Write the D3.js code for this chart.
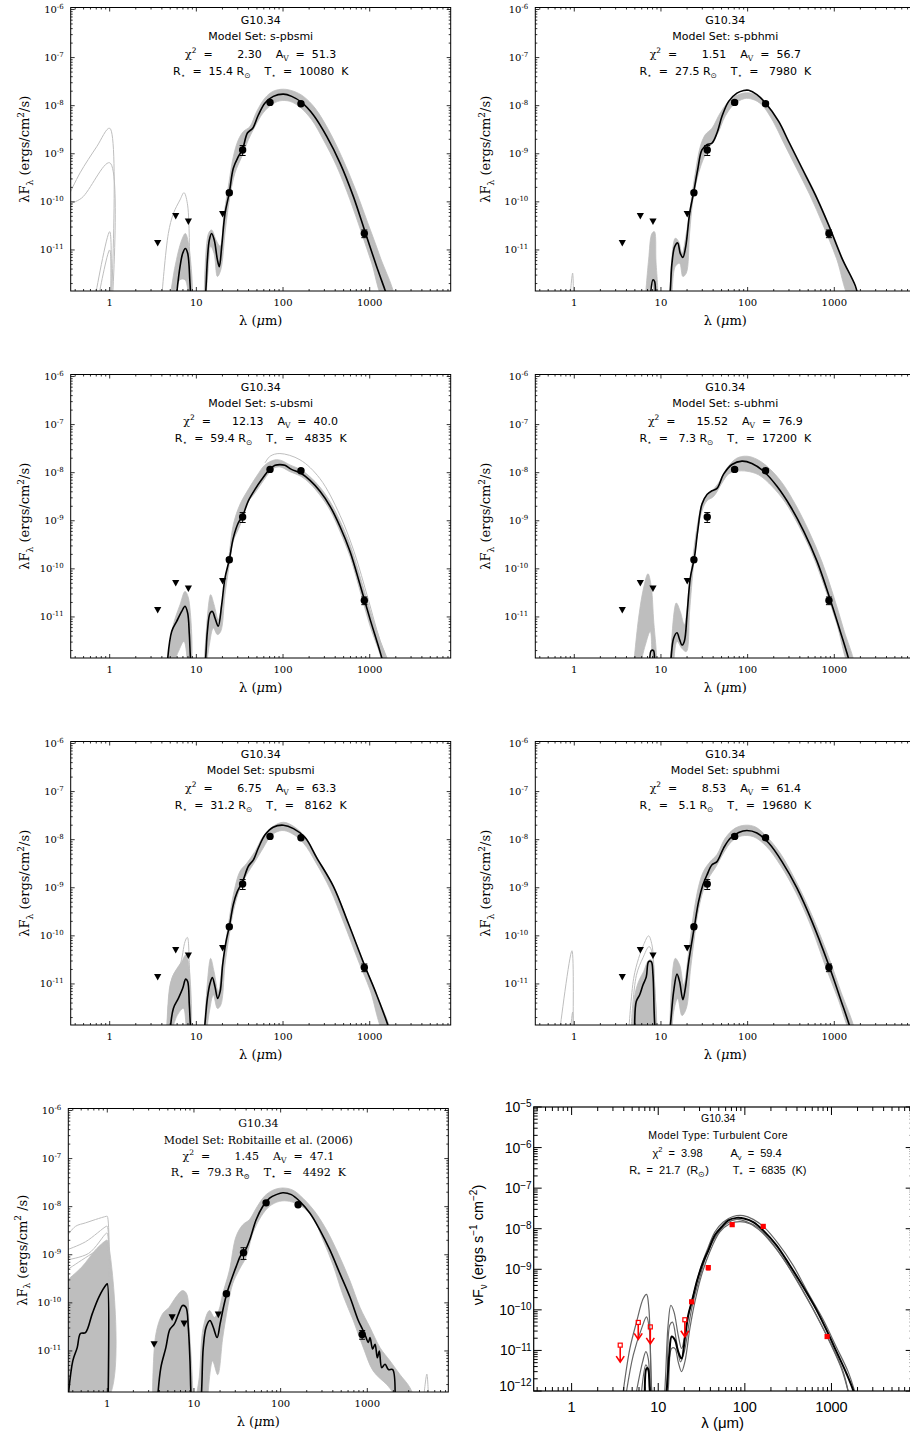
<!DOCTYPE html>
<html><head><meta charset="utf-8">
<script src="https://cdn.jsdelivr.net/npm/d3@7"></script>
<style>body{margin:0;background:#fff}svg{display:block}text{white-space:pre}</style>
</head><body>
<script>
// ---------------- DATA ----------------
const sourceName = "G10.34";
const modelNames = ["s-pbsmi","s-pbhmi","s-ubsmi","s-ubhmi","spubsmi","spubhmi","Robitaille et al. (2006)"];
const chi2Vals = [2.30,1.51,12.13,15.52,6.75,8.53,1.45];
const avVals = [51.3,56.7,40.0,76.9,63.3,61.4,47.1];
const rStarVals = [15.4,27.5,59.4,7.3,31.2,5.1,79.3];
const tStarVals = [10080,7980,4835,17200,8162,19680,4492];
const tcModelType = "Turbulent Core", tcChi2 = 3.98, tcAv = 59.4, tcRstar = 21.7, tcTstar = 6835;

const xTickVals = [1,10,100,1000];
const yTickExpMpl = [-11,-10,-9,-8,-7,-6];
const yTickExpTc = [-12,-11,-10,-9,-8,-7,-6,-5];

// observations (microns, erg/cm2/s)
const detWave = [24, 34.2, 70.8, 161, 867];
const detFlux = [1.55e-10, 1.2e-9, 1.17e-8, 1.1e-8, 2.2e-11];
const detErr  = [1.5e-11, 2.8e-10, 1.1e-9, 1.0e-9, 4e-12];
const limWave = [3.58, 5.78, 8.09, 20.1];
const limFlux = [1.4e-11, 5.1e-11, 3.9e-11, 5.6e-11];
const p7DetWave = [23.7, 37.3, 68, 159, 872];
const p7DetFlux = [1.55e-10, 1.1e-9, 1.2e-8, 1.1e-8, 2.2e-11];
const p7DetErr  = [1.5e-11, 3e-10, 1.1e-9, 1.0e-9, 4.5e-12];
const p7LimWave = [3.47, 5.6, 7.7, 19.1];
const p7LimFlux = [1.38e-11, 5.0e-11, 3.7e-11, 5.7e-11];
const tcDetWave = [24.3, 37.8, 71.4, 163, 891];
const tcDetFlux = [1.58e-10, 1.1e-9, 1.26e-8, 1.14e-8, 2.2e-11];
const tcDetErr  = [0, 1.7e-10, 0, 0, 1.5e-12];
const tcLimWave = [3.64, 5.88, 8.1, 20.3];
const tcLimFlux = [1.35e-11, 4.9e-11, 3.8e-11, 5.7e-11];

// ---- Panel 1 : s-pbsmi
const p1Best = [[5.82,9e-13],[6.48,4.5e-12],[6.96,8.5e-12],[7.46,1.07e-11],[7.94,8.5e-12],[8.45,2.0e-12],[8.91,4e-13],[10.5,1e-13],[12.6,9e-13],[13.4,6.2e-12],[14.1,1.6e-11],[15.0,2.2e-11],[16.1,1.6e-11],[17.5,6.2e-12],[18.4,4.5e-12],[19.6,1.17e-11],[21.4,5.7e-11],[24.0,1.55e-10],[26.7,5.0e-10],[30.5,8.7e-10],[34.2,1.25e-9],[38.8,2.7e-9],[44.7,3.4e-9],[51.9,6.4e-9],[62,1.14e-8],[77.3,1.56e-8],[101,1.74e-8],[126,1.56e-8],[164,1.17e-8],[224,6.4e-9],[319,2.3e-9],[455,6.4e-10],[647,1.3e-10],[883,2.4e-11],[1202,4.5e-12],[1642,9e-13],[1900,3e-13]];
const p1BandHi = [[12.3,1e-12],[13.8,2.2e-11],[15.0,2.6e-11],[16.9,1.6e-11],[18.8,1.2e-11],[20.9,5.7e-11],[23.4,2.1e-10],[26.7,8.7e-10],[30.5,1.95e-9],[34.9,2.9e-9],[41.6,3.7e-9],[49.7,7.6e-9],[62,1.45e-8],[77.3,2.0e-8],[101,2.2e-8],[132,2.0e-8],[172,1.56e-8],[234,8.9e-9],[333,3.2e-9],[475,8.7e-10],[678,1.9e-10],[923,4.2e-11],[1316,7.3e-12],[1876,1e-12]];
const p1BandLo = [[1438,1e-12],[1055,5.3e-12],[809,2.2e-11],[593,1.1e-10],[416,5.5e-10],[292,1.95e-9],[214,5.1e-9],[157,9.3e-9],[120,1.23e-8],[92,1.26e-8],[74,1.05e-8],[59,7.1e-9],[47.5,3.7e-9],[39.8,1.95e-9],[33.4,8.7e-10],[27.9,4.0e-10],[24.4,1.3e-10],[21.6,2.6e-11],[19.1,3.8e-12],[17.5,2.8e-12],[16.0,8.5e-12],[14.6,1.2e-11],[13.8,4.5e-12],[12.9,1e-12]];
const p1MirHi = [[4.97,1e-12],[5.67,4.5e-12],[6.77,1.6e-11],[7.46,2.2e-11],[8.09,1.4e-11],[8.8,1e-12]];
const p1MirLo = [[8.4,1e-12],[7.4,2.4e-12],[6.48,2.4e-12],[5.43,1e-12]];
const p1Nir1 = [[0.34,1.4e-10],[0.455,4.0e-10],[0.708,1.4e-9],[1.0,3.4e-9],[1.0,1e-13]];
const p1Nir2 = [[0.34,9.0e-11],[0.475,1.2e-10],[1.0,6.5e-10],[1.0,1e-13]];
const p1Nir3 = [[0.677,1e-12],[1.0,2.4e-11],[1.0,1e-13]];
const p1Nir4 = [[0.74,1e-12],[1.0,1e-11],[1.0,1e-13]];
const p1Mir1 = [[3.98,1e-12],[4.75,2.2e-11],[5.43,5.7e-11],[6.48,1.1e-10],[7.2,1.55e-10],[7.87,9.3e-11],[8.45,4.5e-12],[8.8,1e-12]];

// ---- Panel 2 : s-pbhmi
const p2Best = [[7.53,1e-12],[8.09,2.4e-12],[8.45,2.2e-12],[8.75,9e-13],[10.5,1e-13],[12.6,1e-12],[13.4,5.3e-12],[14.4,1.17e-11],[15.6,1.4e-11],[16.7,8.5e-12],[17.9,7.0e-12],[19.3,1.17e-11],[21.4,5.7e-11],[23.8,1.55e-10],[26.5,4.6e-10],[29.7,1.2e-9],[33.9,1.55e-9],[38.8,1.67e-9],[44.3,2.7e-9],[50.6,6.0e-9],[60.4,1.23e-8],[75.3,1.82e-8],[90,2.07e-8],[103,2.09e-8],[128,1.7e-8],[160,1.15e-8],[228,4.7e-9],[297,1.8e-9],[424,5.0e-10],[604,1.4e-10],[860,3.3e-11],[1227,6.7e-12],[1746,1.8e-12],[1900,1e-12],[2100,4e-13]];
const p2BandHi = [[12.6,1e-12],[14.6,1.75e-11],[16,1.5e-11],[17.5,8.5e-12],[19.6,2.2e-11],[21.8,7.9e-11],[24.9,4e-10],[28.4,1.4e-9],[32.5,2.5e-9],[38.8,3.4e-9],[48.4,7.1e-9],[63,1.33e-8],[82,1.75e-8],[103,1.85e-8],[128,1.6e-8],[160,1.17e-8],[228,4.9e-9],[297,1.9e-9],[424,5.3e-10],[604,1.5e-10],[860,3.5e-11],[1227,7e-12],[1800,1e-12]];
const p2BandLo = [[1505,1e-12],[1058,6.7e-12],[741,3.3e-11],[521,1.4e-10],[366,5e-10],[256,1.8e-9],[197,4.7e-9],[145,1.05e-8],[115,1.35e-8],[92,1.4e-8],[69,1.05e-8],[55,6e-9],[45,2.6e-9],[37,1.5e-9],[30.5,7.4e-10],[26,2.9e-10],[23.4,1.1e-10],[21.4,2.2e-11],[19.6,3.3e-12],[17.9,2.8e-12],[16.4,5.3e-12],[14.6,4.5e-12],[13.4,1e-12]];
const p2MirHi = [[6.6,1e-12],[7.2,6.2e-12],[7.87,2.2e-11],[8.4,2.4e-11],[8.75,6.2e-12],[9.0,1e-12]];
const p2MirLo = [[8.6,1e-12],[7.87,2.0e-12],[7.0,1e-12]];
const p2Nir1 = [[0.89,1e-12],[0.957,3.3e-12],[0.98,1e-12]];

// ---- Panel 3 : s-ubsmi
const p3Best = [[4.6,1e-12],[5.19,5e-12],[5.93,8.1e-12],[6.77,1.3e-11],[7.4,1.67e-11],[7.94,1.2e-11],[8.3,4.3e-12],[8.68,1e-12],[10.5,1e-13],[12.6,1e-12],[13.4,5e-12],[14.4,1.2e-11],[15.3,1.3e-11],[16.4,9.5e-12],[17.9,6.4e-12],[19.6,1.8e-11],[21.4,6.5e-11],[24,1.55e-10],[26.7,4.4e-10],[30.5,9.1e-10],[34.2,1.26e-9],[39.8,2.6e-9],[47.5,4.5e-9],[56.7,7.2e-9],[70.8,1.2e-8],[81,1.42e-8],[92,1.47e-8],[105,1.42e-8],[125,1.17e-8],[161,9.7e-9],[205,6.9e-9],[267,4.1e-9],[349,2.0e-9],[454,7.6e-10],[593,2.3e-10],[773,4.7e-11],[867,2.3e-11],[1009,9e-12],[1315,1.9e-12],[1570,6e-13]];
const p3BandHi = [[12.3,1e-12],[14.6,2.9e-11],[16,1.8e-11],[17.9,8.8e-12],[20.1,2.5e-11],[23.4,1.45e-10],[26.7,8.3e-10],[31.9,2.2e-9],[39.8,4.5e-9],[49.7,8.5e-9],[62,1.45e-8],[81,1.85e-8],[95,1.8e-8],[120,1.45e-8],[161,1.15e-8],[205,8.2e-9],[267,5e-9],[349,2.5e-9],[454,1.0e-9],[593,3.2e-10],[773,7e-11],[1009,1.4e-11],[1315,3.2e-12],[1620,1e-12]];
const p3BandLo = [[1480,1e-12],[1250,2.2e-12],[1009,6.5e-12],[773,3.5e-11],[593,1.8e-10],[454,6e-10],[349,1.65e-9],[267,3.4e-9],[205,5.9e-9],[161,8.4e-9],[120,1.05e-8],[95,1.3e-8],[81,1.28e-8],[70,1.02e-8],[59,6.7e-9],[47.5,3.8e-9],[38,2.2e-9],[31.9,8e-10],[26.7,3.8e-10],[24,1.23e-10],[21.4,2.9e-11],[19.1,5e-12],[17.5,4.3e-12],[15.7,5.9e-12],[14.1,2.6e-12],[13.1,1e-12]];
const p3MirHi = [[4.6,1e-12],[5.43,6.9e-12],[6.48,1.8e-11],[7.4,3.4e-11],[8.09,2.5e-11],[8.6,1e-12]];
const p3MirLo = [[8.2,1e-12],[7.2,3.1e-12],[6.2,1.9e-12],[5.4,1e-12]];
const p3Top = [[62,1.6e-8],[71,2.2e-8],[92,2.5e-8],[157,1.85e-8],[267,7.5e-9],[454,1.3e-9],[659,2.3e-10],[964,2.3e-11],[1300,3.5e-12],[1714,1e-12]];

// ---- Panel 4 : s-ubhmi
const p4Best = [[7.4,1e-12],[7.73,2e-12],[8.2,2e-12],[8.5,1e-12],[10.5,1e-13],[12.8,1e-12],[14.0,3.6e-12],[15.3,4.7e-12],[16.4,3.4e-12],[17.5,2.6e-12],[18.6,3.1e-12],[20,1.12e-11],[21.8,6.5e-11],[24.3,1.7e-10],[26.5,6e-10],[29.7,2.2e-9],[34,3.5e-9],[38.8,4.2e-9],[44.3,4.7e-9],[52.8,9.3e-9],[66,1.48e-8],[86,1.74e-8],[112,1.55e-8],[153,1.07e-8],[218,5.2e-9],[311,2.0e-9],[443,6.1e-10],[631,1.45e-10],[860,2.9e-11],[1172,5e-12],[1530,1e-12],[1700,4e-13]];
const p4BandHi = [[12.8,1e-12],[15.0,1.95e-11],[16.7,1.3e-11],[18.6,6.9e-12],[20.9,3.4e-11],[23.8,2.3e-10],[27.2,1.15e-9],[31,2.8e-9],[37,3.8e-9],[46.2,6.1e-9],[57.8,1.25e-8],[75,2.0e-8],[98,2.2e-8],[128,1.9e-8],[175,1.26e-8],[249,6.2e-9],[355,2.2e-9],[506,6.2e-10],[721,1.4e-10],[982,2.7e-11],[1282,5.5e-12],[1671,1e-12]];
const p4BandLo = [[1480,1e-12],[1073,7e-12],[787,3.8e-11],[552,2.1e-10],[387,8e-10],[272,2.4e-9],[191,5.2e-9],[134,9e-9],[98,1.07e-8],[75,1.07e-8],[60,9.3e-9],[50.6,6.1e-9],[40.5,3.2e-9],[34,2.6e-9],[29.7,1.6e-9],[26,4.5e-10],[23.8,1.23e-10],[21.4,1.3e-11],[19.6,1.9e-12],[17.5,2.2e-12],[15.3,3.1e-12],[14.0,1e-12]];
const p4MirHi = [[4.84,1e-12],[5.52,9.5e-12],[6.3,4e-11],[7.08,7.9e-11],[7.67,4.7e-11],[8.2,9.5e-12],[8.68,1e-12]];
const p4MirLo = [[8.2,1e-12],[7.53,5e-12],[6.6,2.6e-12],[5.78,1e-12]];

// ---- Panel 5 : spubsmi
const p5Best = [[4.97,1e-12],[5.43,3.1e-12],[6.2,5e-12],[6.96,8.1e-12],[7.53,1.26e-11],[7.94,1.12e-11],[8.3,3.6e-12],[8.68,1e-12],[10.5,1e-13],[12.3,1e-12],[13.4,5e-12],[14.4,1.03e-11],[15.3,1.35e-11],[16.4,8.8e-12],[17.6,5e-12],[18.8,6.9e-12],[20.1,2.5e-11],[22,7.6e-11],[24,1.55e-10],[26.7,4.5e-10],[29.7,8.3e-10],[34.2,1.35e-9],[39.8,2.8e-9],[45.5,3.8e-9],[51.9,6.7e-9],[62,1.26e-8],[77,1.82e-8],[101,2.0e-8],[132,1.7e-8],[179,1.12e-8],[245,4.2e-9],[381,1.07e-9],[568,1.8e-10],[867,2.5e-11],[1205,5.9e-12],[1717,1e-12],[1900,4e-13]];
const p5BandHi = [[12.3,1e-12],[14.6,3.4e-11],[16,1.8e-11],[17.9,6.9e-12],[20.1,2.9e-11],[23.4,1.7e-10],[26.7,7.1e-10],[31.9,2.2e-9],[38,3.2e-9],[47.5,5.7e-9],[59,1.17e-8],[77,1.9e-8],[101,2.3e-8],[132,1.9e-8],[179,1.15e-8],[245,4.4e-9],[381,1.1e-9],[568,1.85e-10],[867,2.6e-11],[1205,6e-12],[1700,1e-12]];
const p5BandLo = [[1450,1e-12],[1009,7.5e-12],[740,3e-11],[519,1.6e-10],[348,9.5e-10],[245,3.1e-9],[172,8.5e-9],[126,1.35e-8],[97,1.55e-8],[74,1.25e-8],[59,6.7e-9],[47.5,3.5e-9],[38,1.86e-9],[31.9,9.8e-10],[26.7,3.2e-10],[24,1.05e-10],[21.4,2.5e-11],[19.1,3.6e-12],[17.5,3.1e-12],[15.7,5.9e-12],[14.1,2.6e-12],[13.1,1e-12]];
const p5MirHi = [[4.55,1e-12],[4.97,9.5e-12],[5.67,1.8e-11],[6.77,2.9e-11],[7.53,4e-11],[7.94,3.4e-11],[8.45,1e-12]];
const p5MirLo = [[7.9,1e-12],[7.1,3.1e-12],[6.0,2.2e-12],[5.2,1e-12]];
const p5Mir1 = [[4.55,1e-12],[4.97,8.1e-12],[5.43,1.55e-11],[6.48,2.5e-11],[7.4,7.6e-11],[7.87,9.3e-11],[8.3,2.5e-11],[8.6,1e-12]];

// ---- Panel 6 : spubhmi
const p6Best = [[4.97,1e-12],[5.19,4.3e-12],[5.67,5.9e-12],[6.2,9.5e-12],[6.77,1.4e-11],[7.2,2.9e-11],[7.73,2.9e-11],[8.09,1.55e-11],[8.6,1e-12],[10.5,1e-13],[12.6,1e-12],[14,6.9e-12],[15.3,1.6e-11],[16.4,1.12e-11],[17.9,4.7e-12],[19.1,8.1e-12],[20.9,2.9e-11],[24.3,1.55e-10],[27.2,5.2e-10],[30.5,1.15e-9],[34,1.86e-9],[38.8,3.0e-9],[44.3,3.5e-9],[52.8,6.7e-9],[63,1.07e-8],[79,1.41e-8],[98,1.55e-8],[128,1.38e-8],[175,8.5e-9],[249,3.5e-9],[371,9.8e-10],[552,2e-10],[860,2.5e-11],[1172,5e-12],[1600,9e-13],[1800,3e-13]];
const p6BandHi = [[12.6,1e-12],[14.6,3.4e-11],[16.4,2.5e-11],[18.3,9.5e-12],[20.9,4.7e-11],[23.8,2.9e-10],[27.2,1.07e-9],[31,2.2e-9],[37,3.5e-9],[44.3,4.9e-9],[55,1.07e-8],[72,1.74e-8],[94,2.0e-8],[122,1.85e-8],[167,1.15e-8],[238,5.2e-9],[355,1.45e-9],[529,3.2e-10],[823,4.5e-11],[1172,7.5e-12],[1700,1e-12]];
const p6BandLo = [[1550,1e-12],[1100,5e-12],[800,2.2e-11],[530,1.7e-10],[360,8e-10],[240,2.9e-9],[165,7.2e-9],[117,1.15e-8],[86,1.2e-8],[66,9.3e-9],[52.8,5.3e-9],[42.4,2.6e-9],[35.5,1.6e-9],[30.5,8.3e-10],[26.5,2.8e-10],[24.3,9e-11],[21.8,1.8e-11],[19.6,3.1e-12],[17.5,2.2e-12],[15.6,5e-12],[14,2.6e-12],[13.4,1e-12]];
const p6MirHi = [[4.6,1e-12],[5.0,6e-12],[5.6,1.2e-11],[6.3,1.8e-11],[7.1,3e-11],[7.7,3.2e-11],[8.3,1.2e-11],[8.8,1e-12]];
const p6MirLo = [[8.6,1e-12],[4.8,1e-12]];
const p6Mir1 = [[4.24,1e-12],[4.84,1.3e-11],[5.52,3.4e-11],[6.3,6.5e-11],[7.2,1e-10],[7.87,6.5e-11],[8.4,1.3e-11],[9.0,1e-12]];
const p6Mir2 = [[4.5,1e-12],[5.2,1.5e-11],[6.2,3.5e-11],[7.3,6e-11],[7.9,4.5e-11],[8.5,5e-12],[8.8,1e-12]];
const p6Nir1 = [[0.677,1e-12],[0.94,4.9e-11],[0.966,1e-12]];
const p6Nir2 = [[0.9,1e-12],[0.957,2.6e-12],[0.98,1e-12]];

// ---- Panel 7 : Robitaille et al. (2006)
const p7BestNir = [[0.34,5e-13],[0.40,6.2e-12],[0.45,1.17e-11],[0.49,2.3e-11],[0.56,2.4e-11],[0.67,5.9e-11],[0.80,1.32e-10],[0.975,2.4e-10],[1.0,2.5e-10],[1.0,1e-13]];
const p7Best = [[3.8,1e-12],[4.15,4.5e-12],[4.74,1.17e-11],[5.27,2.8e-11],[5.92,3.6e-11],[6.64,5.9e-11],[7.39,8.8e-11],[8.08,8.1e-11],[8.6,3.1e-11],[9.0,6.2e-12],[9.3,1e-12],[10.5,1e-13],[12.1,1e-12],[12.8,1.17e-11],[13.8,3.1e-11],[15.3,4.3e-11],[16.7,3.1e-11],[18.5,1.9e-11],[20,3.6e-11],[21.9,8.1e-11],[23.9,1.55e-10],[26.8,2.9e-10],[30.6,5.6e-10],[35,1e-9],[39.3,1.26e-9],[43.8,2e-9],[52.3,5.4e-9],[62.4,1.02e-8],[74.6,1.5e-8],[89,1.78e-8],[106,1.95e-8],[133,1.78e-8],[166,1.29e-8],[217,7.4e-9],[283,3.3e-9],[370,1.26e-9],[482,4.1e-10],[630,1.32e-10],[787,4.3e-11],[859,3.1e-11],[940,2.2e-11],[1028,1.5e-11],[1074,1.9e-11],[1153,1.1e-11],[1228,1.38e-11],[1306,7.2e-12],[1377,1e-11],[1466,4.5e-12],[1603,5.3e-12],[1752,4.1e-12],[1965,4.1e-12],[2000,1e-13]];
const p7BandHi = [[10.5,1e-12],[11.5,2.8e-12],[12.8,3.1e-11],[15.1,6.9e-11],[17.2,5e-11],[19.3,6.9e-11],[21.5,1.55e-10],[25.7,4.8e-10],[30.6,2.4e-9],[36.6,4.2e-9],[43.8,5.4e-9],[52.3,9.3e-9],[65.3,1.66e-8],[81.5,2.2e-8],[106,2.45e-8],[139,2.2e-8],[181,1.5e-8],[248,7.9e-9],[338,3.3e-9],[461,1.07e-9],[630,2.9e-10],[822,8.1e-11],[1074,3.1e-11],[1403,1.17e-11],[1832,6.2e-12],[2390,3.2e-12],[3120,1.7e-12],[3410,1e-12]];
const p7BandLo = [[2390,1e-12],[1675,2e-12],[1173,3.8e-12],[899,1.17e-11],[689,4.3e-11],[527,1.4e-10],[404,6e-10],[309,2.0e-9],[237,5.8e-9],[173,1.02e-8],[127,1.29e-8],[97,1.29e-8],[74.6,1.02e-8],[59.7,6.3e-9],[47.8,2.8e-9],[40,9e-10],[33.5,5e-10],[28,2.5e-10],[24.5,8.1e-11],[21.5,1.9e-11],[18.8,3.2e-12],[16.4,6.2e-12],[14.4,1e-12]];
const p7NirHi = [[0.34,2.9e-10],[0.51,5.6e-10],[0.73,1.26e-9],[0.975,2.0e-9],[1.0,2.0e-9],[1.0,1e-12]];
const p7NirLo = [[0.34,1e-12]];
const p7MirHi = [[3.32,1e-12],[3.63,2.2e-11],[4.34,5.9e-11],[5.18,8.1e-11],[6.19,1.32e-10],[7.39,1.8e-10],[8.22,1.55e-10],[8.83,3.1e-11],[9.5,1e-12]];
const p7MirLo = [[9.3,1e-12],[3.5,1e-12]];
const p7Nir1 = [[0.34,2.4e-9],[0.43,3.9e-9],[0.56,4.6e-9],[0.73,5.4e-9],[0.975,6.3e-9],[1.0,6.3e-9],[1.0,1e-13]];
const p7Nir2 = [[0.34,1.26e-9],[0.56,1.86e-9],[0.975,3.9e-9],[1.0,3.9e-9],[1.0,1e-13]];
const p7Nir3 = [[0.34,7.8e-10],[0.61,1.07e-9],[0.975,2.8e-9],[1.0,2.8e-9],[1.0,1e-13]];
const p7Nir4 = [[0.34,4.8e-10],[0.975,1.6e-9],[1.0,1.6e-9],[1.0,1e-13]];
const p7Tail = [[4456,1e-12],[4864,3.3e-12],[5090,1e-12]];

// ---- Panel 8 : Turbulent Core
const tcBest = [[7.0,1e-12],[7.33,3.6e-12],[7.6,3.6e-12],[8.0,1e-12],[10,1e-14],[12.5,1e-12],[13.4,7.7e-12],[14.3,2.2e-11],[15.6,1.8e-11],[17.0,9.3e-12],[18.6,6.3e-12],[20.3,2e-11],[22.2,7.4e-11],[24.7,1.74e-10],[28.2,5.4e-10],[33,1.5e-9],[37.8,2.9e-9],[45,6.9e-9],[53.8,1.1e-8],[64.3,1.6e-8],[80,1.85e-8],[100,1.77e-8],[125,1.46e-8],[163,9.1e-9],[232,3.9e-9],[330,1.26e-9],[471,3.7e-10],[671,1e-10],[875,3.2e-11],[1142,9.3e-12],[1490,2.7e-12],[1778,1.05e-12],[2000,4e-13]];
const tcGray1 = [[3.95,1e-12],[4.71,1.12e-11],[5.62,5e-11],[6.71,1.9e-10],[7.33,2.4e-10],[7.8,1.07e-10],[8.4,1e-12],[10,1e-14],[11.9,1e-12],[13,4.2e-11],[14,1.3e-10],[15.2,8.9e-11],[17,2.4e-11],[18.6,1.12e-11],[20.3,2.4e-11],[23.2,1.07e-10],[26.5,3.3e-10],[31.6,1.26e-9],[37.8,3.5e-9],[45,8.3e-9],[56,1.45e-8],[73,2.0e-8],[96,2.1e-8],[125,1.7e-8],[170,1.05e-8],[243,4.3e-9],[361,1.25e-9],[538,2.6e-10],[801,5.8e-11],[1142,1.2e-11],[1556,3e-12],[1850,1e-12]];
const tcGray2 = [[4.31,1e-12],[5.15,7.7e-12],[6.43,3.5e-11],[7.33,6.7e-11],[7.87,3.5e-11],[8.4,1e-12],[10,1e-14],[12.5,1e-12],[13.6,4.2e-11],[14.6,5e-11],[16.3,1.6e-11],[18.1,5.2e-12],[20,9.3e-12],[22.8,5e-11],[25.3,1.58e-10],[30.3,6.5e-10],[36.1,2.2e-9],[47.1,6.9e-9],[61.4,1.33e-8],[80,1.7e-8],[104,1.5e-8],[143,1.05e-8],[203,4.7e-9],[303,1.38e-9],[451,3.3e-10],[671,7.4e-11],[957,1.6e-11],[1303,3.6e-12],[1556,1e-12]];
const tcGray3 = [[5.62,1e-12],[6.6,5.2e-12],[7.2,9.3e-12],[7.67,6.3e-12],[8.1,1e-12],[10,1e-14],[13,1e-12],[14.3,1.12e-11],[15.6,1.12e-11],[17,5.2e-12],[18.6,3e-12],[20.3,5.2e-12],[23.2,3.5e-11],[26.5,1.58e-10],[31.6,7.1e-10],[39.4,2.7e-9],[51.5,8.3e-9],[67,1.33e-8],[87.6,1.5e-8],[114,1.33e-8],[156,8.3e-9],[222,3.5e-9],[330,1.05e-9],[492,2.5e-10],[733,5e-11],[1045,1.12e-11],[1364,3e-12],[1556,1e-12]];
const tcGray4 = [[6.43,1e-12],[7.2,4.4e-12],[7.73,3e-12],[8.1,1e-12]];

// ---------------- DRAWING ----------------
const W = 910, H = 1437;
const SERIF = "'DejaVu Serif', serif", SANS = "'DejaVu Sans', sans-serif", IDLF = "'Liberation Sans', Arial, sans-serif";
const GRAY = "#bebebe", RED = "#ff0000";
const svg = d3.select("body").append("svg").attr("width", W).attr("height", H);
svg.append("rect").attr("width", W).attr("height", H).attr("fill", "#fff");
const defs = svg.append("defs");

const panelBest = [[p1Best],[p2Best],[p3Best],[p4Best],[p5Best],[p6Best],[p7BestNir,p7Best]];
const panelBands = [
  [[p1BandHi,p1BandLo],[p1MirHi,p1MirLo]],
  [[p2BandHi,p2BandLo],[p2MirHi,p2MirLo]],
  [[p3BandHi,p3BandLo],[p3MirHi,p3MirLo]],
  [[p4BandHi,p4BandLo],[p4MirHi,p4MirLo]],
  [[p5BandHi,p5BandLo],[p5MirHi,p5MirLo]],
  [[p6BandHi,p6BandLo],[p6MirHi,p6MirLo]],
  [[p7BandHi,p7BandLo],[p7MirHi,p7MirLo],[p7NirHi,p7NirLo]]
];
const panelLines = [
  [p1Nir1,p1Nir2,p1Nir3,p1Nir4,p1Mir1],
  [p2Nir1],
  [p3Top],
  [],
  [p5Mir1],
  [p6Mir1,p6Mir2,p6Nir1,p6Nir2],
  [p7Nir1,p7Nir2,p7Nir3,p7Nir4,p7Tail]
];
const layout = [
  {left:70.7, top:7.5},{left:535.3, top:7.5},
  {left:70.7, top:374.5},{left:535.3, top:374.5},
  {left:70.7, top:741.5},{left:535.3, top:741.5},
  {left:68.3, top:1108.5}
];

function logTicks(dom){
  const out = [];
  const lo = Math.floor(Math.log10(dom[0])), hi = Math.ceil(Math.log10(dom[1]));
  for (let d = lo; d <= hi; d++) for (let k = 1; k <= 9; k++) {
    const v = k * Math.pow(10, d);
    if (v >= dom[0] * 0.9999 && v <= dom[1] * 1.0001) out.push({v, major: k === 1});
  }
  return out;
}
function rich(t, parts, base, small){
  let off = 0;
  parts.forEach(([s, type, fam, style]) => {
    const ts = t.append("tspan").text(s);
    const target = type === "sup" ? -base * 0.42 : type === "sub" ? base * 0.28 : 0;
    if (target - off !== 0) ts.attr("dy", target - off);
    off = target;
    if (type !== "n") ts.attr("font-size", small);
    if (fam) ts.attr("font-family", fam);
    if (style) ts.attr("font-style", style);
  });
}

function drawMpl(i){
  const {left, top} = layout[i], w = 380, h = 283.5;
  const x = d3.scaleLog().domain([0.355, 8600]).range([left, left + w]);
  const y = d3.scaleLog().domain([1.4e-12, 1.1e-6]).range([top + h, top]);
  const g = svg.append("g");
  const cid = "clip" + i;
  defs.append("clipPath").attr("id", cid).append("rect").attr("x", left).attr("y", top).attr("width", w).attr("height", h);
  const pg = g.append("g").attr("clip-path", `url(#${cid})`);
  const line = d3.line().x(d => x(d[0])).y(d => y(d[1])).curve(d3.curveCatmullRom.alpha(0.5));
  panelBands[i].forEach(b => pg.append("path").attr("d", line(b[0].concat(b[1])) + "Z")
    .attr("fill", GRAY).attr("stroke", GRAY).attr("stroke-width", 0.8));
  panelLines[i].forEach(l => pg.append("path").attr("d", line(l)).attr("fill", "none").attr("stroke", GRAY).attr("stroke-width", 1));
  panelBest[i].forEach(l => pg.append("path").attr("d", line(l)).attr("fill", "none").attr("stroke", "#000").attr("stroke-width", 1.6));

  const dW = i === 6 ? p7DetWave : detWave, dF = i === 6 ? p7DetFlux : detFlux, dE = i === 6 ? p7DetErr : detErr;
  const lW = i === 6 ? p7LimWave : limWave, lF = i === 6 ? p7LimFlux : limFlux;
  dW.forEach((wv, k) => {
    const px = x(wv), y1 = y(dF[k] - dE[k]), y2 = y(dF[k] + dE[k]);
    g.append("path").attr("d", `M${px},${y1}V${y2}M${px-3},${y1}H${px+3}M${px-3},${y2}H${px+3}`)
      .attr("stroke", "#000").attr("stroke-width", 1).attr("fill", "none");
    g.append("circle").attr("cx", px).attr("cy", y(dF[k])).attr("r", 3.7).attr("fill", "#000");
  });
  lW.forEach((wv, k) => {
    const px = x(wv), py = y(lF[k]);
    g.append("path").attr("d", `M${px-3.6},${py-3}L${px+3.6},${py-3}L${px},${py+3.6}Z`).attr("fill", "#000");
  });

  const tk = g.append("g").attr("stroke", "#000").attr("stroke-width", 0.8);
  logTicks(x.domain()).forEach(t => {
    const px = x(t.v), len = t.major ? 4 : 2;
    tk.append("line").attr("x1", px).attr("x2", px).attr("y1", top + h).attr("y2", top + h - len);
    tk.append("line").attr("x1", px).attr("x2", px).attr("y1", top).attr("y2", top + len);
  });
  logTicks(y.domain()).forEach(t => {
    const py = y(t.v), len = t.major ? 4 : 2;
    tk.append("line").attr("y1", py).attr("y2", py).attr("x1", left).attr("x2", left + len);
    tk.append("line").attr("y1", py).attr("y2", py).attr("x1", left + w).attr("x2", left + w - len);
  });
  g.append("rect").attr("x", left).attr("y", top).attr("width", w).attr("height", h)
    .attr("fill", "none").attr("stroke", "#000").attr("stroke-width", 1);

  xTickVals.forEach(v => g.append("text").attr("x", x(v)).attr("y", top + h + 14.5).attr("text-anchor", "middle")
    .attr("font-family", SERIF).attr("font-size", 10).text(String(v)));
  yTickExpMpl.forEach(e => {
    const t = g.append("text").attr("x", left - 7).attr("y", y(Math.pow(10, e)) + 3.5).attr("text-anchor", "end")
      .attr("font-family", SERIF).attr("font-size", 10);
    rich(t, [["10", "n"], [String(e), "sup"]], 10, 7);
  });
  const xt = g.append("text").attr("x", left + 190).attr("y", top + h + 33.5).attr("text-anchor", "middle")
    .attr("font-family", SERIF).attr("font-size", 13);
  rich(xt, [["λ (", "n"], ["μ", "n", null, "italic"], ["m)", "n"]], 13, 13);
  const yx = left < 100 ? left - 41.5 : left - 45;
  const yt = g.append("text").attr("transform", `translate(${yx},${top + h / 2}) rotate(-90)`).attr("text-anchor", "middle")
    .attr("font-family", SERIF).attr("font-size", 13);
  rich(yt, [["λF", "n"], ["λ", "sub"], [" (ergs/cm", "n"], ["2", "sup"], [i === 6 ? " /s)" : "/s)", "n"]], 13, 9);

  const cx = left + 190, hf = i === 6 ? SERIF : SANS;
  const offs = i === 6 ? [18.5, 35, 51.5, 67.5] : [16, 32.5, 50, 67];
  const mk = (k) => g.append("text").attr("x", cx).attr("y", top + offs[k]).attr("text-anchor", "middle")
    .attr("font-family", hf).attr("font-size", 11);
  mk(0).text(sourceName);
  mk(1).text("Model Set: " + modelNames[i]);
  rich(mk(2), [["χ", "n", SERIF], ["2", "sup"], ["  =" + chi2Vals[i].toFixed(2).padStart(11) + "    A", "n"], ["V", "sub", SERIF],
    ["  =  " + avVals[i].toFixed(1), "n"]], 11, 7.5);
  rich(mk(3), [["R", "n"], ["⋆", "sub"], ["  =  " + rStarVals[i].toFixed(1).padStart(4) + " R", "n"], ["⊙", "sub"],
    ["    T", "n"], ["⋆", "sub"], ["  =  " + String(tStarVals[i]).padStart(5) + "  K", "n"]], 11, 7.5);
}

for (let i = 0; i < 7; i++) drawMpl(i);

// ---------------- Turbulent core panel (IDL style) ----------------
(function(){
  const left = 533.7, top = 1107, w = 380, h = 284;
  const x = d3.scaleLog().domain([0.365, 8900]).range([left, left + w]);
  const y = d3.scaleLog().domain([1e-12, 1e-5]).range([top + h, top]);
  const g = svg.append("g");
  defs.append("clipPath").attr("id", "clipTC").append("rect").attr("x", left).attr("y", top).attr("width", w).attr("height", h);
  const pg = g.append("g").attr("clip-path", "url(#clipTC)");
  const line = d3.line().x(d => x(d[0])).y(d => y(d[1])).curve(d3.curveCatmullRom.alpha(0.5));
  [tcGray1, tcGray2, tcGray3, tcGray4].forEach(l => pg.append("path").attr("d", line(l)).attr("fill", "none")
    .attr("stroke", "#666").attr("stroke-width", 1.2));
  pg.append("path").attr("d", line(tcBest)).attr("fill", "none").attr("stroke", "#000").attr("stroke-width", 2);

  tcDetWave.forEach((wv, k) => {
    const px = x(wv), py = y(tcDetFlux[k]);
    if (tcDetErr[k] > 0) g.append("line").attr("x1", px).attr("x2", px).attr("y1", y(tcDetFlux[k] - tcDetErr[k])).attr("y2", y(tcDetFlux[k] + tcDetErr[k]))
      .attr("stroke", RED).attr("stroke-width", 4);
    g.append("rect").attr("x", px - 2.6).attr("y", py - 2.6).attr("width", 5.2).attr("height", 5.2).attr("fill", RED);
  });
  tcLimWave.forEach((wv, k) => {
    const px = x(wv), py = y(tcLimFlux[k]);
    g.append("rect").attr("x", px - 2).attr("y", py - 2).attr("width", 4).attr("height", 4).attr("fill", "none").attr("stroke", RED).attr("stroke-width", 1.2);
    g.append("path").attr("d", `M${px},${py + 2}V${py + 17}M${px - 4},${py + 11}L${px},${py + 17}L${px + 4},${py + 11}`)
      .attr("stroke", RED).attr("stroke-width", 1.6).attr("fill", "none");
  });

  const tk = g.append("g").attr("stroke", "#000").attr("stroke-width", 1);
  logTicks(x.domain()).forEach(t => {
    const px = x(t.v), len = t.major ? 8 : 4;
    tk.append("line").attr("x1", px).attr("x2", px).attr("y1", top + h).attr("y2", top + h - len);
    tk.append("line").attr("x1", px).attr("x2", px).attr("y1", top).attr("y2", top + len);
  });
  logTicks(y.domain()).forEach(t => {
    const py = y(t.v), len = t.major ? 8 : 4;
    tk.append("line").attr("y1", py).attr("y2", py).attr("x1", left).attr("x2", left + len);
    tk.append("line").attr("y1", py).attr("y2", py).attr("x1", left + w).attr("x2", left + w - len);
  });
  g.append("rect").attr("x", left).attr("y", top).attr("width", w).attr("height", h).attr("fill", "none").attr("stroke", "#000").attr("stroke-width", 1.2);

  xTickVals.forEach(v => g.append("text").attr("x", x(v)).attr("y", top + h + 21).attr("text-anchor", "middle")
    .attr("font-family", IDLF).attr("font-size", 14.5).text(String(v)));
  yTickExpTc.forEach(e => {
    const py = y(Math.pow(10, e)) + (e === -12 ? 0 : 5);
    const t = g.append("text").attr("x", left - 2).attr("y", py).attr("text-anchor", "end").attr("font-family", IDLF).attr("font-size", 14);
    rich(t, [["10", "n"], ["−" + String(-e), "sup"]], 11, 10);
  });
  const xt = g.append("text").attr("x", left + 189).attr("y", top + h + 37).attr("text-anchor", "middle").attr("font-family", IDLF).attr("font-size", 15);
  rich(xt, [["λ (μm)", "n"]], 15, 15);
  const yt = g.append("text").attr("transform", `translate(${left - 51},${top + h / 2 - 4}) rotate(-90)`).attr("text-anchor", "middle")
    .attr("font-family", IDLF).attr("font-size", 14.5);
  rich(yt, [["νF", "n"], ["ν", "sub"], [" (ergs s", "n"], ["−1", "sup"], [" cm", "n"], ["−2", "sup"], [")", "n"]], 14.5, 10);

  const cx = left + 184.5;
  g.append("text").attr("x", cx).attr("y", top + 14.5).attr("text-anchor", "middle").attr("font-family", IDLF).attr("font-size", 10.5).text(sourceName);
  g.append("text").attr("x", cx).attr("y", top + 32).attr("text-anchor", "middle").attr("font-family", IDLF).attr("font-size", 10.5)
    .attr("letter-spacing", 0.4).text("Model Type: " + tcModelType);
  const a = g.append("text").attr("x", 652.5).attr("y", top + 49.5).attr("font-family", IDLF).attr("font-size", 11);
  rich(a, [["χ", "n"], ["2", "sup"], ["  =  " + tcChi2.toFixed(2), "n"]], 11, 7.5);
  const b = g.append("text").attr("x", 730.5).attr("y", top + 49.5).attr("font-family", IDLF).attr("font-size", 11);
  rich(b, [["A", "n"], ["v", "sub"], ["  =  " + tcAv.toFixed(1), "n"]], 11, 7.5);
  const c = g.append("text").attr("x", 629.3).attr("y", top + 66.5).attr("font-family", IDLF).attr("font-size", 11);
  rich(c, [["R", "n"], ["*", "sub"], ["  =  " + tcRstar.toFixed(1) + "  (R", "n"], ["⊙", "sub"], [")", "n"]], 11, 8);
  const d = g.append("text").attr("x", 732.7).attr("y", top + 66.5).attr("font-family", IDLF).attr("font-size", 11);
  rich(d, [["T", "n"], ["*", "sub"], ["  =  " + tcTstar + "  (K)", "n"]], 11, 8);
})();
</script>
</body></html>
